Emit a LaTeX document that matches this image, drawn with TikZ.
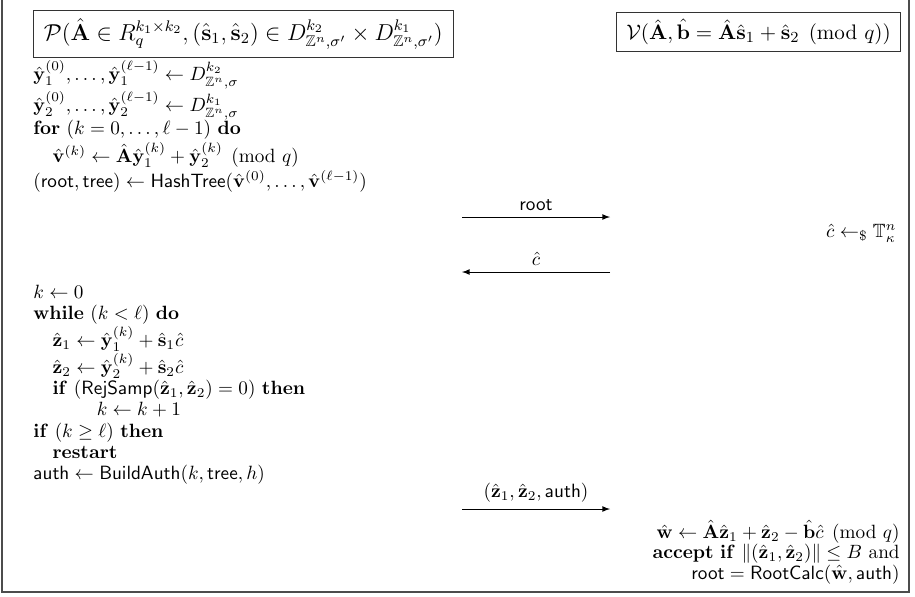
\documentclass[tikz,border=0pt]{standalone}
\usepackage{amsmath,amssymb}
\newcommand{\vA}{\hat{\mathbf{A}}}
\newcommand{\vb}{\hat{\mathbf{b}}}
\newcommand{\vs}{\hat{\mathbf{s}}}
\newcommand{\vy}{\hat{\mathbf{y}}}
\newcommand{\vv}{\hat{\mathbf{v}}}
\newcommand{\vz}{\hat{\mathbf{z}}}
\newcommand{\vw}{\hat{\mathbf{w}}}
\begin{document}
\begin{tikzpicture}[x=0.5208pt,y=-0.5208pt,
  partybox/.style={draw,black!80,text=black,inner xsep=2pt,inner ysep=0pt},
  steps/.style={inner sep=0pt,font=\fontsize{10}{11}\selectfont}]
\useasboundingbox (0,0) rectangle (915,596);
\draw[black!70,line width=0.8pt] (2,-5) -- (2,592) -- (909,592) -- (909,-5);

\node[partybox,anchor=north west,minimum width=218.7pt,minimum height=24.5pt,
  font=\fontsize{11.5}{13}\selectfont] (prover) at (33,10)
  {$\mathcal{P}(\vA \in R_q^{k_1\times k_2}, (\vs_1,\vs_2) \in D^{k_2}_{\mathbb{Z}^n,\sigma'} \times D^{k_1}_{\mathbb{Z}^n,\sigma'})$};
\node[partybox,anchor=north east,minimum width=148pt,minimum height=20.5pt,
  font=\fontsize{11}{13}\selectfont] (verifier) at (901,12)
  {$\mathcal{V}(\vA, \vb = \vA\vs_1+\vs_2 \pmod q)$};

\node[steps,anchor=north west,align=left,font=\fontsize{10}{12}\selectfont] (commit) at (33,60) {%
$\vy_1^{(0)},\ldots,\vy_1^{(\ell-1)} \leftarrow D^{k_2}_{\mathbb{Z}^n,\sigma}$\\[0.5pt]
$\vy_2^{(0)},\ldots,\vy_2^{(\ell-1)} \leftarrow D^{k_1}_{\mathbb{Z}^n,\sigma}$\\
$\mathbf{for}\ (k=0,\ldots,\ell-1)\ \mathbf{do}$\\[0.5pt]
\hspace*{1em}$\vv^{(k)} \leftarrow \vA\vy_1^{(k)}+\vy_2^{(k)} \pmod q$\\[1pt]
$(\mathsf{root},\mathsf{tree}) \leftarrow \mathsf{HashTree}(\vv^{(0)},\ldots,\vv^{(\ell-1)})$};

\node[anchor=east] (challenge) at (903,233) {$\hat{c} \leftarrow_{\$} \mathbb{T}^n_\kappa$};

\node[steps,anchor=north west,align=left] (respond) at (33,285) {%
\lineskiplimit=-6pt
$k \leftarrow 0$\\
$\mathbf{while}\ (k<\ell)\ \mathbf{do}$\\
\hspace*{1em}$\vz_1 \leftarrow \vy_1^{(k)} + \vs_1\hat{c}$\\
\hspace*{1em}$\vz_2 \leftarrow \vy_2^{(k)} + \vs_2\hat{c}$\\
\hspace*{1em}$\mathbf{if}\ (\mathsf{RejSamp}(\vz_1,\vz_2)=0)\ \mathbf{then}$\\
\hspace*{3.3em}$k \leftarrow k+1$\\
$\mathbf{if}\ (k\geq\ell)\ \mathbf{then}$\\
\hspace*{1em}$\mathbf{restart}$\\
$\mathsf{auth} \leftarrow \mathsf{BuildAuth}(k,\mathsf{tree},h)$};

\node[steps,anchor=north east,align=right,font=\fontsize{10}{10.5}\selectfont] (verify) at (900,520) {%
$\vw \leftarrow \vA\vz_1+\vz_2-\vb\hat{c} \pmod q$\\
$\mathbf{accept\ if}\ \|(\vz_1,\vz_2)\|\leq B$ and\\
$\mathsf{root}=\mathsf{RootCalc}(\vw,\mathsf{auth})$};

% messages
\coordinate (rootL) at (462,217);
\coordinate (rootR) at (610,217);
\coordinate (chalL) at (462,272);
\coordinate (chalR) at (610,272);
\coordinate (respL) at (462,509);
\coordinate (respR) at (610,509);
\draw[-latex] (rootL) -- node[above] (rootmsg) {$\mathsf{root}$} (rootR);
\draw[-latex] (chalR) -- node[above] (chalmsg) {$\hat{c}$} (chalL);
\draw[-latex] (respL) -- node[above] (respmsg) {$(\vz_1,\vz_2,\mathsf{auth})$} (respR);
\end{tikzpicture}
\end{document}
